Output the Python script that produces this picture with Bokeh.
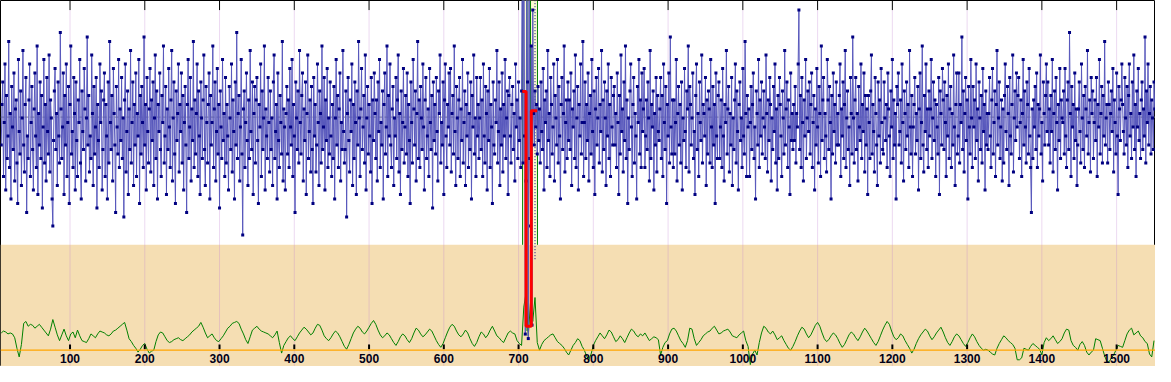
from bokeh.plotting import figure
from bokeh.models import Range1d, Span, BoxAnnotation
from bokeh.core.properties import value
from bokeh.embed import file_html
from bokeh.resources import INLINE

# ---------------- data ----------------
tick_values = [100, 200, 300, 400, 500, 600, 700, 800, 900, 1000, 1100, 1200, 1300, 1400, 1500]
tick_labels = ["100", "200", "300", "400", "500", "600", "700", "800", "900", "1000",
               "1100", "1200", "1300", "1400", "1500"]

blue_start = 8
blue_step = 1
blue_values = [
    48,57,62,41,53,66,38,59,45,50,71,43,55,36,61,52,47,64,40,56,
    58,44,35,67,51,46,60,39,54,69,48,42,57,63,33,50,45,58,66,41,
    53,61,47,38,56,64,50,43,70,37,55,48,62,45,59,34,52,67,44,57,
    40,63,51,46,68,42,58,54,36,30,49,60,65,47,55,39,62,50,44,73,
    56,45,52,64,37,59,48,66,41,53,61,35,57,70,46,51,43,63,55,38,
    62,49,41,58,53,67,44,36,60,51,47,65,56,40,54,72,48,59,42,50,
    45,68,55,39,61,46,52,63,34,57,49,43,66,53,60,38,47,58,64,41,
    57,50,36,62,44,71,53,47,59,40,65,55,48,33,61,52,46,67,43,56,
    49,63,45,54,32,58,66,42,51,60,37,56,47,69,44,53,62,39,57,48,
    64,41,55,50,67,35,59,46,61,53,43,72,48,57,38,63,51,44,56,65,
    42,58,49,62,39,54,68,45,60,36,57,51,64,47,41,59,53,70,44,50,
    61,37,56,47,65,52,43,58,69,40,54,62,46,35,60,49,55,66,42,57,
    51,64,44,59,38,53,61,48,33,57,67,45,52,63,40,56,49,71,43,58,
    46,55,66,41,60,50,37,62,54,45,58,68,47,39,61,53,44,57,64,36,
    59,48,53,70,43,56,62,40,51,65,46,57,34,60,52,45,67,49,55,41,
    63,44,57,50,38,61,54,47,66,42,58,51,36,62,48,73,45,55,59,40,
    52,67,46,28,56,60,43,53,64,49,39,58,45,69,51,47,62,37,55,61,
    44,58,63,49,35,57,52,66,41,60,47,54,70,38,56,50,45,63,53,42,
    60,47,54,39,62,68,45,51,57,36,64,49,43,59,53,46,71,40,56,52,
    38,55,61,46,58,43,65,52,48,67,41,57,50,33,62,54,47,60,44,69,
    53,46,59,64,40,56,49,62,37,55,68,45,51,58,42,61,47,35,63,50,
    57,42,48,66,53,39,60,55,44,70,47,52,63,38,58,49,65,43,54,46,
    62,50,41,57,45,61,36,54,67,48,59,43,56,64,40,53,47,69,51,44,
    47,60,32,55,63,49,42,58,51,66,39,57,45,62,53,37,60,48,71,54,
    41,56,65,47,52,59,44,68,38,54,61,46,57,50,42,63,35,58,49,64,
    55,45,58,40,62,51,67,43,53,48,60,36,57,64,46,52,70,41,59,50,
    66,48,43,56,61,39,54,50,63,45,58,68,42,55,37,60,47,53,65,44,
    52,59,46,64,41,57,49,35,62,53,44,67,56,48,60,40,55,71,45,58,
    43,61,54,47,66,52,38,58,63,45,50,56,41,65,53,47,59,34,62,49,
    57,46,63,51,40,60,55,68,44,53,48,62,37,58,66,50,43,57,52,64,
    48,65,42,55,59,46,70,51,39,61,54,45,58,63,41,56,49,67,44,53,
    60,39,57,50,64,43,55,47,62,36,59,52,68,46,54,41,63,50,57,45,
    54,63,47,58,41,66,50,44,61,55,38,60,49,65,43,57,52,35,62,48,
    46,58,53,69,44,51,62,39,56,48,64,42,57,50,67,45,54,60,37,59,
    63,50,44,57,61,47,55,40,66,52,58,45,62,49,54,43,60,96,44,110,
    50,6,40,88,62,5,105,45,30,70,8,78,55,48,60,52,57,46,61,49,
    56,44,62,51,47,65,38,58,53,60,43,69,49,55,41,63,57,46,52,66,
    40,59,54,48,67,44,61,50,36,57,63,47,55,70,42,53,58,45,62,49,
    58,47,64,39,56,52,60,45,68,43,54,61,38,57,50,66,46,53,71,41,
    53,62,45,57,49,64,40,55,59,46,67,51,43,60,37,56,63,48,54,65,
    44,57,51,69,42,58,47,62,54,39,60,50,66,45,57,41,63,52,48,59,
    61,48,55,43,64,53,37,59,46,68,51,56,42,62,49,70,45,58,35,54,
    47,60,66,52,41,57,63,44,55,50,36,61,53,67,46,58,43,64,51,56,
    65,43,50,58,47,62,54,40,69,45,57,52,60,38,55,48,63,42,59,51,
    49,56,63,45,59,41,66,53,47,61,35,57,50,64,44,72,52,46,58,43,
    58,46,53,67,40,55,61,48,57,44,62,38,54,49,65,51,43,60,56,70,
    42,61,57,48,54,64,45,51,37,59,66,47,55,41,62,53,49,68,44,57,
    55,50,63,39,58,46,60,56,44,67,52,43,61,48,57,35,64,50,45,59,
    62,45,52,58,43,65,50,40,57,53,69,46,56,61,42,55,48,63,39,54,
    47,58,66,44,60,51,38,57,62,49,54,43,65,50,46,71,55,41,59,52,
    56,41,53,61,47,57,64,45,52,36,60,55,48,67,43,58,50,62,46,54,
    60,52,45,68,55,42,58,49,63,57,40,54,47,61,51,66,44,56,38,59,
    45,63,57,50,41,60,54,46,69,48,56,62,43,58,52,37,64,49,55,47,
    57,49,61,44,55,52,66,78,47,59,43,63,53,40,58,50,67,45,54,60,
    51,62,46,57,64,43,53,59,38,56,48,65,52,44,61,55,41,70,49,58,
    63,45,55,50,42,67,58,47,61,53,36,59,46,64,51,57,44,62,48,55,
    48,59,66,41,56,50,62,45,57,69,43,54,60,47,52,39,63,55,46,72,
    54,44,58,63,47,55,40,61,52,49,66,45,57,51,64,42,59,48,56,37,
    59,53,45,60,68,46,57,51,42,63,55,48,39,62,50,58,44,65,53,47,
    46,62,54,49,57,43,64,56,50,41,60,52,67,45,58,48,55,36,61,57,
    64,48,51,58,44,66,53,40,60,55,47,62,50,57,43,69,52,46,59,41,
    52,57,63,46,55,49,61,38,56,64,45,53,70,48,42,59,51,66,47,56,
    43,60,50,56,67,45,54,62,49,58,41,57,52,46,63,37,60,55,48,65,
    58,47,62,53,41,59,50,66,45,56,61,43,55,48,68,52,39,57,64,46,
    50,64,44,57,53,72,47,60,42,55,63,49,58,36,61,52,46,67,54,43,
    61,52,58,45,66,49,56,40,62,54,47,59,44,65,51,57,38,60,48,55,
    47,55,63,50,43,58,65,46,53,60,41,57,69,48,54,62,45,52,58,40,
    56,44,59,66,51,47,61,55,39,63,50,46,57,68,42,54,60,49,64,52,
    59,63,45,53,58,41,55,67,48,60,52,44,62,57,46,65,50,43,33,56,
    45,58,52,61,47,64,43,57,50,56,68,46,53,40,62,55,48,59,66,51,
    62,48,56,44,59,51,67,42,55,60,47,63,53,38,57,49,65,45,58,54,
    53,60,46,65,50,43,58,62,47,73,55,41,61,52,57,45,64,49,56,39,
    48,56,62,51,44,66,54,47,59,43,61,56,50,69,46,53,58,42,63,55,
    60,45,53,58,49,63,41,57,52,67,46,55,61,44,59,50,71,48,54,57,
    44,62,57,47,55,60,51,65,42,58,53,46,64,50,37,61,56,49,58,66,
    57,51,46,63,54,48,61,43,59,66,50,55,45,62,52,68,47,57,41,60,
    52,65,49,55,45,58,62,47,56,50,72,44,60,53,66,48,55,61,46,58,
    54,47,62,56,
]

green_start = 8
green_step = 3
green_values = [
    18,20,19,17,18,17,13,2,-7,6,28,30,25,27,26,23,25,27,24,21,
    18,15,22,32,24,16,10,16,22,15,10,17,19,13,21,15,10,9,8,12,
    17,15,13,17,20,19,18,16,15,17,20,21,23,25,27,29,21,12,9,5,
    2,-2,1,5,7,1,-3,-1,0,9,16,19,18,14,10,8,9,11,12,13,
    11,10,12,14,16,19,21,23,25,29,24,18,13,15,17,13,10,9,12,15,
    19,23,25,28,29,30,28,22,17,11,7,14,21,23,25,22,20,19,18,17,
    15,13,16,20,8,-3,5,9,13,15,12,10,14,18,21,24,22,19,16,18,
    23,27,26,21,15,12,10,13,17,20,18,14,9,4,1,6,12,18,22,25,
    23,19,17,20,24,28,31,27,21,16,13,15,18,16,12,8,5,9,14,17,
    15,11,8,12,18,23,21,17,14,16,19,22,20,15,10,6,3,7,13,19,
    24,27,25,20,16,14,17,21,18,12,7,4,8,14,19,17,13,16,21,25,
    20,15,13,10,8,13,18,20,18,17,10,7,5,45,60,15,50,30,55,8,
    0,6,10,12,14,16,17,13,9,7,5,2,-2,-5,0,5,8,12,10,4,
    0,-6,-10,-4,5,10,14,18,15,12,16,21,19,14,9,11,15,12,8,13,
    18,22,20,16,14,17,15,18,14,10,12,14,13,11,-5,3,8,10,17,22,
    23,20,15,10,7,3,10,23,22,12,5,8,11,15,17,19,20,23,25,21,
    17,18,20,21,22,19,15,14,13,16,18,20,10,4,-15,-4,0,-5,8,18,
    25,23,19,17,20,16,11,13,15,10,6,2,0,4,9,15,20,24,22,17,
    13,16,21,26,29,25,18,12,9,11,15,18,16,12,7,3,6,11,16,19,
    17,13,10,14,19,23,20,16,12,8,5,9,15,21,26,30,27,20,14,11,
    13,17,15,10,6,2,-3,1,7,12,16,19,22,20,15,11,14,18,21,24,
    19,13,8,5,9,14,17,15,11,7,4,8,13,17,14,9,5,2,0,1,
    0,-2,-4,-5,2,7,11,15,13,10,8,6,2,-10,-10,-8,2,1,0,4,
    7,5,3,1,-5,8,13,10,12,15,11,7,9,12,18,22,21,10,5,3,
    0,6,9,5,-2,-5,-2,0,12,11,10,2,-6,-12,-12,-8,-5,0,5,4,
    3,10,17,21,23,16,18,20,15,13,9,7,-4,-7,10,
]

blue_mid_level = 54.2      # dashed reference level (blue scale)
green_base_level = 0       # orange base level (lower pane scale)
pane_top = 110             # top of the lower (tan) pane
spike_band = [705, 725]
spike_line_x = [705.4, 711.3, 716.0, 725.3]
spike_line_bottom = [110, 20, 35, 110]
red_x = [705, 710, 710, 717, 717, 725]
red_y = [270, 270, 25, 25, 250, 250]
dotted_x = [722]
dotted_bottom = [95]

blue_x = [blue_start + blue_step * i for i in range(len(blue_values))]
green_x = [green_start + green_step * i for i in range(len(green_values))]

# ---------------- figure ----------------
pane = Range1d(-17, 365)
p = figure(width=1155, height=366, output_backend="svg", toolbar_location=None,
           x_range=Range1d(7, 1552), y_range=Range1d(-1.2, 80.1),
           x_axis_location=None, y_axis_location=None, min_border=0)
p.extra_y_ranges = {"pane": pane}
p.grid.visible = False
p.outline_line_color = "black"
p.outline_line_width = 1
p.background_fill_color = "white"
p.border_fill_color = "white"

# tan lower pane
p.add_layout(BoxAnnotation(top=pane_top, y_range_name="pane", fill_color="#f5deb3",
                           fill_alpha=1.0, line_color=None, level="underlay"))

# pale band behind the spike
p.quad(left=spike_band[0], right=spike_band[1], bottom=pane_top, top=pane.end,
       y_range_name="pane", fill_color="#fafad2", line_color=None)

# vertical grid lines
p.segment(x0=tick_values, y0=pane.end - 10, x1=tick_values, y1=pane.start,
          y_range_name="pane", line_color="#c080d0", line_alpha=0.3, line_width=1)

# dashed mid level
p.add_layout(Span(location=blue_mid_level, dimension="width", line_color="#808080",
                  line_dash="4 2", line_width=1, level="underlay"))

# green lower-pane series
p.line(green_x, green_values, y_range_name="pane", line_color="#008000", line_width=1)

# spike decorations
p.segment(x0=spike_line_x, y0=spike_line_bottom, x1=spike_line_x, y1=pane.end,
          y_range_name="pane", line_color="#008000", line_width=1)
p.segment(x0=dotted_x, y0=dotted_bottom, x1=dotted_x, y1=pane.end,
          y_range_name="pane", line_color="#000080", line_width=1, line_dash="1 2")

# blue main series
p.line(blue_x, blue_values, line_color="#5858bc", line_width=1)
p.scatter(blue_x, blue_values, marker="square", size=3, fill_color="#000080",
          line_color=None)

# red spike path
p.line(red_x, red_y, y_range_name="pane", line_color="#ff0000", line_width=3)

# orange base line
p.add_layout(Span(location=green_base_level, dimension="width", y_range_name="pane",
                  line_color="#ffa500", line_width=1.2))

# ticks (top and bottom)
p.segment(x0=tick_values, y0=pane.end, x1=tick_values, y1=pane.end - 10,
          y_range_name="pane", line_color="black", line_width=1)
p.segment(x0=tick_values, y0=1, x1=tick_values, y1=6,
          y_range_name="pane", line_color="black", line_width=2)

# tick labels
p.text(x=tick_values, y=-9, text=tick_labels, y_range_name="pane",
       text_align="center", text_baseline="middle",
       text_font=value("Liberation Sans"), text_font_style="bold",
       text_font_size="12px", text_color="#000018")

open("out.html", "w").write(file_html(p, INLINE))
